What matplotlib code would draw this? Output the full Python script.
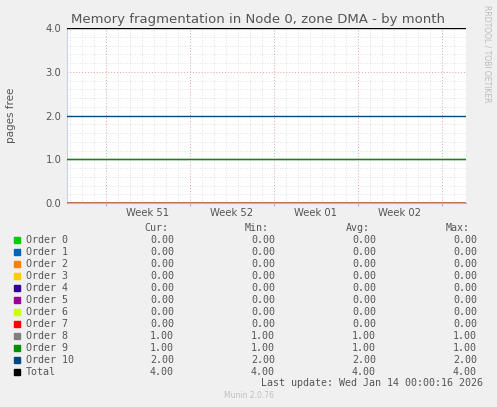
import matplotlib
matplotlib.use("Agg")
import matplotlib.pyplot as plt
from matplotlib.ticker import FixedLocator

names = ["Order 0","Order 1","Order 2","Order 3","Order 4","Order 5","Order 6","Order 7","Order 8","Order 9","Order 10","Total"]
colors = ["#00cc00","#0066b3","#ff8000","#ffcc00","#330099","#990099","#ccff00","#ff0000","#808080","#008f00","#00487d","#000000"]
cur = [0,0,0,0,0,0,0,0,1,1,2,4]
mins = [0,0,0,0,0,0,0,0,1,1,2,4]
avgs = [0,0,0,0,0,0,0,0,1,1,2,4]
maxs = [0,0,0,0,0,0,0,0,1,1,2,4]
week_labels = ["Week 51","Week 52","Week 01","Week 02"]
span_days = [0, 33.25]

W, H = 497, 407
fig = plt.figure(figsize=(W/100, H/100), dpi=100, facecolor="#f0f0f0")
ax = fig.add_axes([67/W, 1-203/H, 399/W, 175/H], facecolor="white")
ax.set_xlim(*span_days)
ax.set_ylim(0, 4)

for n, c, v in zip(names, colors, cur):
    ax.plot(span_days, [v, v], color=c, lw=1, zorder=3)

minor_x = [0.25 + i for i in range(34)]
major_x = [3.25 + 7*i for i in range(5)]
ax.xaxis.set_minor_locator(FixedLocator(minor_x))
ax.xaxis.set_major_locator(FixedLocator(major_x))
ax.yaxis.set_major_locator(FixedLocator([0,1,2,3,4]))
ax.yaxis.set_minor_locator(FixedLocator([i*0.2 for i in range(21)]))
ax.grid(which="minor", color="#d8d8d8", ls=(0,(1,2)), lw=0.6)
ax.grid(which="major", color="#e8a0a0", ls=(0,(1,2)), lw=0.7)
ax.set_xticklabels([])
for i, lab in enumerate(week_labels):
    ax.text(major_x[i] + 3.5, -0.12, lab, ha="center", va="top", fontsize=7.2, color="#555555")
ax.set_yticklabels(["0.0","1.0","2.0","3.0","4.0"], fontsize=7.2, color="#555555")
ax.tick_params(which="both", length=0, pad=4)
ax.tick_params(axis="x", which="major", length=2, color="#e8a0a0")
for s in ["top","right"]:
    ax.spines[s].set_visible(False)
ax.spines["left"].set_color("#c8d0f0")
ax.spines["bottom"].set_color("#e8a0a0")

fig.text(71/W, 1-19/H, "Memory fragmentation in Node 0, zone DMA - by month", fontsize=9.5, color="#555555", va="center")
fig.text(11/W, 1-115/H, "pages free", rotation=90, fontsize=7.5, color="#555555", ha="center", va="center")
fig.text(487/W, 1-5/H, "RRDTOOL / TOBI OETIKER", rotation=270, fontsize=5.5, color="#bbbbbb", ha="center", va="top")

mono = dict(family="DejaVu Sans Mono", fontsize=7.2, color="#555555", va="center")
hy = 1-227.5/H
for x, h in [(168, "Cur:"), (269, "Min:"), (370, "Avg:"), (470, "Max:")]:
    fig.text(x/W, hy, h, ha="right", **mono)
for i, (n, c) in enumerate(zip(names, colors)):
    y = 239.7 + 12*i
    fy = 1-y/H
    fig.patches.append(plt.Rectangle((14/W, 1-(y+3)/H), 6/W, 6/H, transform=fig.transFigure, color=c))
    fig.text(26/W, fy, n, ha="left", **mono)
    for x, arr in [(174, cur), (275, mins), (376, avgs), (477, maxs)]:
        fig.text(x/W, fy, f"{arr[i]:.2f}", ha="right", **mono)
fig.text(483/W, 1-383.5/H, "Last update: Wed Jan 14 00:00:16 2026", ha="right", **mono)
fig.text(249/W, 1-396/H, "Munin 2.0.76", ha="center", va="center", fontsize=5.5, color="#c0c0c0")

fig.savefig("out.png", dpi=100, facecolor=fig.get_facecolor())
